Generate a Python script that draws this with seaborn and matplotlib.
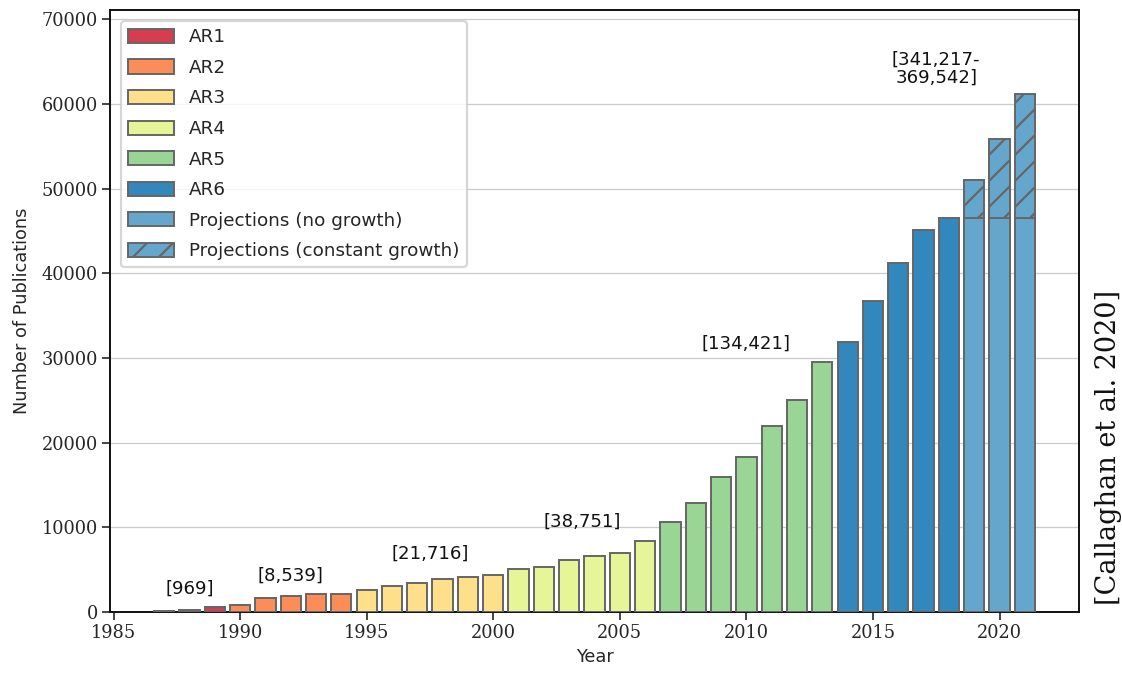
import matplotlib
matplotlib.use("Agg")
import matplotlib.pyplot as plt
from matplotlib.patches import Patch
import seaborn as sns
import pandas as pd

# ---- data ----
years = list(range(1987, 2022))
counts = [120, 250, 560,                                   # AR1
          880, 1700, 1930, 2150, 2080,                       # AR2
          2640, 3100, 3460, 3930, 4170, 4420,                # AR3
          5080, 5330, 6150, 6620, 6980, 8390,                # AR4
          10650, 12900, 15950, 18300, 21950, 25050, 29550,   # AR5
          31900, 36750, 41250, 45150, 46550,                 # AR6
          46550, 46550, 46550]                               # projections (no growth)
reports = (["AR1"] * 3 + ["AR2"] * 5 + ["AR3"] * 6 + ["AR4"] * 6 +
           ["AR5"] * 7 + ["AR6"] * 5 + ["Projections (no growth)"] * 3)
growth_years = [2019, 2020, 2021]
growth_totals = [51000, 55850, 61150]

ann_texts = ["[969]", "[8,539]", "[21,716]", "[38,751]", "[134,421]", "[341,217-\n369,542]"]
ann_x = [1988, 1992, 1997.5, 2003.5, 2010, 2017.5]
ann_y = [2800, 4300, 6900, 10700, 31700, 64200]

palette = {"AR1": "#d53e4f", "AR2": "#fc8d59", "AR3": "#fee08b", "AR4": "#e6f598",
           "AR5": "#99d594", "AR6": "#3288bd", "Projections (no growth)": "#65a6cd"}

df = pd.DataFrame({"Year": years, "Count": counts, "Report": reports})
gdf = pd.DataFrame({"Year": growth_years, "Count": growth_totals})

# ---- style ----
DPI = 156
sns.set_theme(style="white")
plt.rcParams["font.family"] = ["DejaVu Sans"]
plt.rcParams["hatch.linewidth"] = 1.0

fig = plt.figure(figsize=(1122 / DPI, 673 / DPI), dpi=DPI)
ax = fig.add_axes([110 / 1122, 1 - 612 / 673, (1079 - 110) / 1122, (612 - 10) / 673])

edge = "#666666"
sns.barplot(data=gdf, x="Year", y="Count", native_scale=True, color="#65a6cd",
            saturation=1, edgecolor=edge, linewidth=0.9, hatch="//", ax=ax, zorder=2)
sns.barplot(data=df, x="Year", y="Count", hue="Report", palette=palette,
            saturation=1, native_scale=True, dodge=False, edgecolor=edge,
            linewidth=0.9, ax=ax, legend=False, zorder=3)

for t, x, y in zip(ann_texts, ann_x, ann_y):
    ax.text(x, y, t, ha="center", va="center", fontsize=8.4, linespacing=1.0,
            color="#111111")

ax.set_ylim(0, 71100)
ax.set_yticks(range(0, 70001, 10000))
ax.set_xlabel("Year", fontsize=8.2, labelpad=3)
ax.set_ylabel("Number of Publications", fontsize=8.2, labelpad=5)
ax.yaxis.grid(True, color="#cccccc", linewidth=0.6)
ax.set_axisbelow(True)
for s in ax.spines.values():
    s.set_color("#111111")
    s.set_linewidth(0.9)
ax.tick_params(axis="both", which="major", direction="out", length=3.5, width=0.7,
               color="#111111", labelsize=8.2, bottom=True, left=True, pad=2)
for lab in ax.get_xticklabels() + ax.get_yticklabels():
    lab.set_family("DejaVu Serif")

handles = [Patch(facecolor=palette[k], edgecolor=edge, linewidth=0.9, label=k)
           for k in ["AR1", "AR2", "AR3", "AR4", "AR5", "AR6", "Projections (no growth)"]]
handles.append(Patch(facecolor="#65a6cd", edgecolor=edge, linewidth=0.9, hatch="//",
                     label="Projections (constant growth)"))
ax.legend(handles=handles, loc="upper left", fontsize=8.5, frameon=True,
          fancybox=True, edgecolor="#cccccc", handlelength=2.5, handleheight=0.8,
          labelspacing=0.68, borderaxespad=0.6)

fig.text(1108 / 1122, 1 - 447 / 673, "[Callaghan et al. 2020]", rotation=90,
         ha="center", va="center", fontsize=12.5, family="DejaVu Serif",
         color="#111111")

fig.savefig("out.png", dpi=DPI)
